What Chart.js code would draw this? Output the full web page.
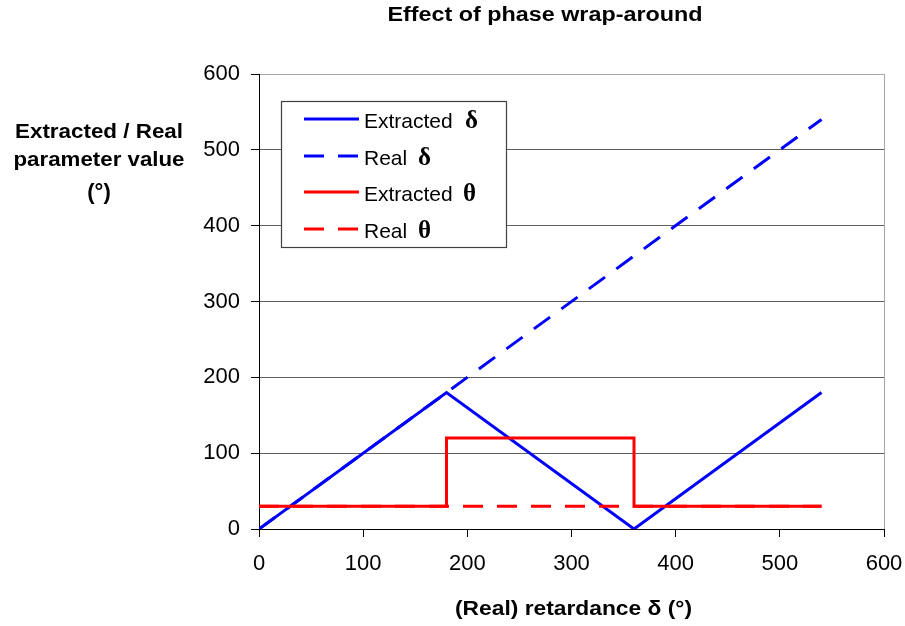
<!DOCTYPE html>
<html>
<head>
<meta charset="utf-8">
<script src="https://cdn.jsdelivr.net/npm/chart.js@4"></script>
<style>
html,body{margin:0;padding:0;background:#fff;}
canvas{display:block;}
</style>
</head>
<body>
<canvas id="c" width="905" height="626"></canvas>
<script>
// ---- data ----
const extDeltaX = [0, 180, 360, 540];
const extDeltaY = [0, 180, 0, 180];
const realDeltaX = [0, 540];
const realDeltaY = [0, 540];
const extThetaX = [0, 180, 180, 360, 360, 540];
const extThetaY = [30, 30, 120, 120, 30, 30];
const realThetaX = [0, 540];
const realThetaY = [30, 30];
const xTickValues = [0, 100, 200, 300, 400, 500, 600];
const yTickValues = [0, 100, 200, 300, 400, 500, 600];
const seriesNames = ['Extracted', 'Real', 'Extracted', 'Real'];
const seriesSymbols = ['δ', 'δ', 'θ', 'θ'];
const chartTitle = 'Effect of phase wrap-around';
const yTitleLines = ['Extracted / Real', 'parameter value', '(°)'];
const xTitle = '(Real) retardance δ (°)';

const pts = (xs, ys) => xs.map((x, i) => ({x: x, y: ys[i]}));
const SANS = '"Liberation Sans", Arial, sans-serif';
const SERIF = '"Liberation Serif", "Times New Roman", serif';

function fitText(ctx, text, x, y, font, target, align) {
  ctx.save();
  ctx.font = font;
  const w = ctx.measureText(text).width;
  const s = target ? target / w : 1;
  ctx.translate(x, y);
  ctx.scale(s, 1);
  ctx.textAlign = align || 'left';
  ctx.textBaseline = 'alphabetic';
  ctx.fillStyle = '#000';
  ctx.fillText(text, 0, 0);
  ctx.restore();
}

const decor = {
  id: 'decor',
  beforeDatasetsDraw(chart) {
    const ctx = chart.ctx, a = chart.chartArea;
    ctx.save();
    ctx.strokeStyle = '#a6a6a6';
    ctx.lineWidth = 1;
    ctx.beginPath();
    ctx.moveTo(Math.round(a.right) + 0.5, a.top);
    ctx.lineTo(Math.round(a.right) + 0.5, a.bottom);
    ctx.stroke();
    ctx.restore();
  },
  afterDraw(chart) {
    const ctx = chart.ctx, a = chart.chartArea;
    const cx = (a.left + a.right) / 2;
    // title
    fitText(ctx, chartTitle, 545, 21, 'bold 20px ' + SANS, 315, 'center');
    // y title
    fitText(ctx, yTitleLines[0], 99, 138, 'bold 20px ' + SANS, 168, 'center');
    fitText(ctx, yTitleLines[1], 99, 166, 'bold 20px ' + SANS, 171, 'center');
    fitText(ctx, yTitleLines[2], 99, 199, 'bold 22px ' + SANS, 0, 'center');
    // x title
    fitText(ctx, xTitle, cx + 2, 615, 'bold 20px ' + SANS, 237, 'center');
    // legend
    ctx.save();
    ctx.fillStyle = '#fff';
    ctx.fillRect(281, 101, 226, 147);
    ctx.strokeStyle = '#404040';
    ctx.lineWidth = 1.2;
    ctx.strokeRect(281.5, 101.5, 225, 146);
    const rows = [119, 156, 192, 229];
    const ds = chart.data.datasets;
    const order = [2, 3, 0, 1]; // legend order: ext delta, real delta, ext theta, real theta
    const symX = [465, 418, 463, 418];
    rows.forEach((ry, i) => {
      const d = ds[order[i]];
      ctx.save();
      ctx.strokeStyle = d.borderColor;
      ctx.lineWidth = 3;
      ctx.setLineDash(d.borderDash || []);
      ctx.beginPath();
      ctx.moveTo(304, ry);
      ctx.lineTo(359, ry);
      ctx.stroke();
      ctx.restore();
      fitText(ctx, seriesNames[i], 364, ry + 9, '21px ' + SANS, 0, 'left');
      fitText(ctx, seriesSymbols[i], symX[i], ry + 9, 'bold 25px ' + SERIF, 0, 'left');
    });
    ctx.restore();
  }
};

const tickFont = {family: SANS, size: 22};

new Chart(document.getElementById('c'), {
  type: 'scatter',
  data: {
    datasets: [
      {label: 'Extracted θ', data: pts(extThetaX, extThetaY), borderColor: '#ff0000', backgroundColor: '#ff0000', borderWidth: 3, showLine: true, pointRadius: 0, tension: 0},
      {label: 'Real θ', data: pts(realThetaX, realThetaY), borderColor: '#ff0000', backgroundColor: '#ff0000', borderWidth: 3, borderDash: [20, 14], showLine: true, pointRadius: 0, tension: 0},
      {label: 'Extracted δ', data: pts(extDeltaX, extDeltaY), borderColor: '#0000ff', backgroundColor: '#0000ff', borderWidth: 3, showLine: true, pointRadius: 0, tension: 0},
      {label: 'Real δ', data: pts(realDeltaX, realDeltaY), borderColor: '#0000ff', backgroundColor: '#0000ff', borderWidth: 3, borderDash: [20, 14], showLine: true, pointRadius: 0, tension: 0}
    ]
  },
  options: {
    responsive: false,
    animation: false,
    layout: {padding: {left: 0, right: 21, top: 74, bottom: 0}},
    plugins: {legend: {display: false}, tooltip: {enabled: false}, title: {display: false}},
    scales: {
      x: {
        type: 'linear', min: 0, max: 600,
        afterBuildTicks(s) { s.ticks = xTickValues.map(v => ({value: v})); },
        ticks: {font: tickFont, color: '#000', padding: 14, maxRotation: 0},
        grid: {drawOnChartArea: false, drawTicks: true, tickLength: 8, tickColor: '#000'},
        border: {color: '#000', width: 1},
        afterFit(s) { s.height = 97; s.paddingLeft = 0; s.paddingRight = 0; }
      },
      y: {
        type: 'linear', min: 0, max: 600,
        afterBuildTicks(s) { s.ticks = yTickValues.map(v => ({value: v})); },
        ticks: {font: tickFont, color: '#000', padding: 11},
        grid: {
          color: c => (c.tick && c.tick.value === 600) ? '#a6a6a6' : ((c.tick && c.tick.value === 0) ? 'rgba(0,0,0,0)' : '#606060'),
          lineWidth: 1, tickLength: 8, tickColor: '#000'
        },
        border: {color: '#000', width: 1},
        afterFit(s) { s.width = 259; s.paddingTop = 0; s.paddingBottom = 0; }
      }
    }
  },
  plugins: [decor]
});
</script>
</body>
</html>
